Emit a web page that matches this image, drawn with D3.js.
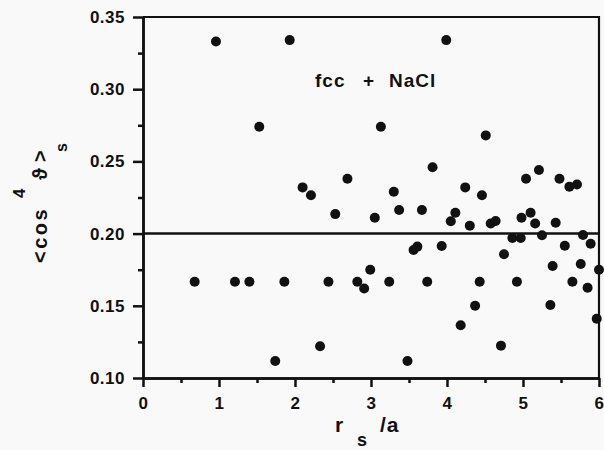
<!DOCTYPE html>
<html>
<head>
<meta charset="utf-8">
<script src="https://cdn.jsdelivr.net/npm/d3@7"></script>
<style>
  body { margin: 0; background: #f9f9f9; }
  svg { display: block; font-family: "Liberation Sans", Arial, "DejaVu Sans", sans-serif; font-weight: bold; }
  .axis path, .axis line { stroke: #111; stroke-width: 2.5; }
  .axis text { font-size: 17px; letter-spacing: 0.5px; fill: #111; font-family: "Liberation Sans", Arial, sans-serif; font-weight: bold; }
</style>
</head>
<body>
<div id="chart-area"></div>
<script>

// r_s / a
var rsA = [0.68, 0.96, 1.21, 1.40, 1.53, 1.74, 1.86, 1.93, 2.10, 2.21,
           2.33, 2.44, 2.53, 2.69, 2.82, 2.91, 2.99, 3.05, 3.13, 3.24,
           3.30, 3.37, 3.48, 3.56, 3.61, 3.67, 3.74, 3.81, 3.93, 3.99,
           4.05, 4.11, 4.18, 4.24, 4.30, 4.37, 4.43, 4.46, 4.51, 4.575,
           4.64, 4.71, 4.75, 4.86, 4.92, 4.97, 4.98, 5.04, 5.10, 5.16,
           5.21, 5.25, 5.36, 5.39, 5.43, 5.48, 5.55, 5.61, 5.65, 5.71,
           5.76, 5.79, 5.85, 5.89, 5.97, 6.00];

// <cos^4 theta>_s
var cos4 = [0.1667, 0.333, 0.1667, 0.1667, 0.274, 0.1118, 0.1667, 0.334, 0.232, 0.2265,
            0.122, 0.1667, 0.2135, 0.238, 0.1667, 0.162, 0.175, 0.211, 0.274, 0.1667,
            0.229, 0.2163, 0.1118, 0.1886, 0.191, 0.2163, 0.1667, 0.246, 0.1914, 0.334,
            0.2085, 0.2145, 0.1365, 0.232, 0.2055, 0.150, 0.1667, 0.2265, 0.268, 0.207,
            0.2087, 0.1224, 0.1857, 0.197, 0.1667, 0.197, 0.211, 0.238, 0.2145, 0.207,
            0.244, 0.1988, 0.1505, 0.1776, 0.2075, 0.238, 0.1916, 0.2325, 0.1667, 0.234,
            0.179, 0.199, 0.1625, 0.193, 0.141, 0.175];

var xTicks = [0, 1, 2, 3, 4, 5, 6];
var xMinor = [0.5, 1.5, 2.5, 3.5, 4.5, 5.5];
var yTicks = [0.10, 0.15, 0.20, 0.25, 0.30, 0.35];
var yMinor = [0.125, 0.175, 0.225, 0.275, 0.325];
var refLine = 0.20;


var margin = { left: 143, right: 5, top: 17, bottom: 72 };
var width = 604 - margin.left - margin.right;
var height = 450 - margin.top - margin.bottom;

var svg = d3.select("#chart-area")
    .append("svg")
    .attr("width", 604)
    .attr("height", 450);

var g = svg.append("g")
    .attr("transform", "translate(" + margin.left + ", " + margin.top + ")");

var x = d3.scaleLinear().domain([0, 6]).range([0, width]);
var y = d3.scaleLinear().domain([0.10, 0.35]).range([height, 0]);

var points = rsA.map(function(d, i) { return { r: d, c: cos4[i] }; });

// minor ticks
g.append("g")
    .attr("class", "axis")
    .attr("transform", "translate(0," + height + ")")
    .call(d3.axisBottom(x).tickValues(xMinor).tickSize(5).tickSizeOuter(0).tickFormat(""));
g.append("g")
    .attr("class", "axis")
    .call(d3.axisLeft(y).tickValues(yMinor).tickSize(5).tickSizeOuter(0).tickFormat(""));

// major axes
g.append("g")
    .attr("class", "axis")
    .attr("transform", "translate(0," + height + ")")
    .call(d3.axisBottom(x).tickValues(xTicks).tickSize(9).tickSizeOuter(0).tickPadding(10).tickFormat(d3.format("d")));
g.append("g")
    .attr("class", "axis")
    .call(d3.axisLeft(y).tickValues(yTicks).tickSize(10).tickSizeOuter(0).tickPadding(8).tickFormat(d3.format(".2f")));

// frame top + right
g.append("path")
    .attr("d", "M" + x(0) + "," + y(0.35) + "H" + x(6) + "V" + y(0.10))
    .attr("fill", "none")
    .attr("stroke", "#111")
    .attr("stroke-width", 2.2);

// reference line
g.append("line")
    .attr("x1", x(0)).attr("x2", x(6))
    .attr("y1", y(refLine)).attr("y2", y(refLine))
    .attr("stroke", "#111")
    .attr("stroke-width", 2.5);

g.selectAll("circle")
    .data(points)
    .enter()
    .append("circle")
        .attr("cx", function(d) { return x(d.r); })
        .attr("cy", function(d) { return y(d.c); })
        .attr("r", 5)
        .attr("fill", "#111");

// annotation
var note = svg.append("text")
    .attr("y", 87)
    .attr("font-size", "19px")
    .attr("letter-spacing", "1px")
    .attr("fill", "#111");
note.append("tspan").attr("x", 315).text("fcc");
note.append("tspan").attr("x", 363).text("+");
note.append("tspan").attr("x", 389).text("NaCl");

// x label
var xl = svg.append("text")
    .attr("fill", "#111")
    .attr("font-size", "21px");
xl.append("tspan").attr("x", 335).attr("y", 432).text("r");
xl.append("tspan").attr("x", 357).attr("y", 446).attr("font-size", "18px").text("s");
xl.append("tspan").attr("x", 380).attr("y", 432).attr("letter-spacing", "1px").text("/a");

// y label
var yl = svg.append("text")
    .attr("transform", "translate(47,263) rotate(-90)")
    .attr("fill", "#111")
    .attr("font-size", "20px");
yl.append("tspan").attr("x", 0).attr("y", 0).attr("letter-spacing", "2.5px").text("<cos");
yl.append("tspan").attr("x", 65).attr("y", -22).attr("font-size", "17px").text("4");
yl.append("tspan").attr("x", 83).attr("y", 0).text("\u03d1");
yl.append("tspan").attr("x", 101).attr("y", 0).text(">");
yl.append("tspan").attr("x", 111).attr("y", 20).attr("font-size", "16px").text("s");

</script>
</body>
</html>
